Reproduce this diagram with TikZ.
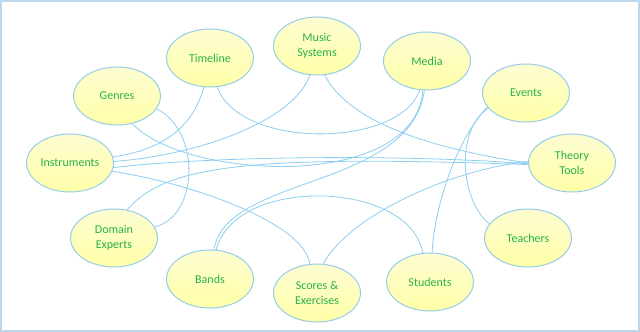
\documentclass[tikz,border=0pt]{standalone}
\usepackage{fontspec}
\setmainfont{Carlito}
\usetikzlibrary{shapes.geometric}
\definecolor{txtgreen}{RGB}{40,178,74}
\definecolor{bubtop}{RGB}{253,253,210}
\definecolor{bubbot}{RGB}{255,255,168}
\definecolor{bubedge}{RGB}{150,205,232}
\definecolor{linkcol}{RGB}{140,205,240}
\definecolor{framecol}{RGB}{189,215,238}
\begin{document}
\begin{tikzpicture}[x=0.75pt,y=-0.75pt,
  bub/.style={ellipse, draw=bubedge, line width=0.75pt, top color=bubtop, bottom color=bubbot,
    minimum width=65.25pt, minimum height=43.5pt, inner sep=0pt, align=center,
    text=txtgreen, font=\fontsize{9}{11.25}\selectfont},
  link/.style={draw=linkcol, line width=0.6pt}]
\useasboundingbox (0,0) rectangle (640,332);
\draw[framecol, line width=1.5pt] (1,1) rectangle (639,331);

\node[bub] (tl)  at (210,58)  {Timeline};
\node[bub] (gen) at (117,96)  {Genres};
\node[bub] (ms)  at (317,46)  {Music\\Systems};
\node[bub] (med) at (427,61)  {Media};
\node[bub] (ev)  at (526,93)  {Events};
\node[bub] (tt)  at (572,163) {Theory\\Tools};
\node[bub] (ins) at (70,163)  {Instruments};
\node[bub] (de)  at (114,238) {Domain\\Experts};
\node[bub] (bd)  at (210,279) {Bands};
\node[bub] (sc)  at (317,293) {Scores \&\\Exercises};
\node[bub] (st)  at (430,282) {Students};
\node[bub] (te)  at (528,238) {Teachers};

\draw[link] (tl.258) .. controls (192,130) and (160,150) .. (ins.8);
\draw[link] (tl.284) .. controls (240,150) and (400,148) .. (med.256);
\draw[link] (ms.256) .. controls (295,120) and (200,155) .. (ins.2);
\draw[link] (ms.285) .. controls (350,125) and (440,150) .. (tt.180);
\draw[link] (gen.342) .. controls (200,130) and (200,215) .. (de.15);
\draw[link] (gen.299) .. controls (185,180) and (415,192) .. (med.262);
\draw[link] (ins.354) .. controls (220,155) and (420,155) .. (tt.181);
\draw[link] (ins.349) .. controls (200,185) and (305,225) .. (sc.104);
\draw[link] (de.65) .. controls (165,165) and (250,155) .. (tt.182);
\draw[link] (med.265) .. controls (410,190) and (225,175) .. (bd.82);
\draw[link] (bd.78) .. controls (235,175) and (410,180) .. (st.104);
\draw[link] (sc.78) .. controls (350,215) and (450,170) .. (tt.178);
\draw[link] (ev.200) .. controls (460,135) and (435,200) .. (st.86);
\draw[link] (ev.202) .. controls (455,130) and (460,200) .. (te.160);
\end{tikzpicture}
\end{document}
